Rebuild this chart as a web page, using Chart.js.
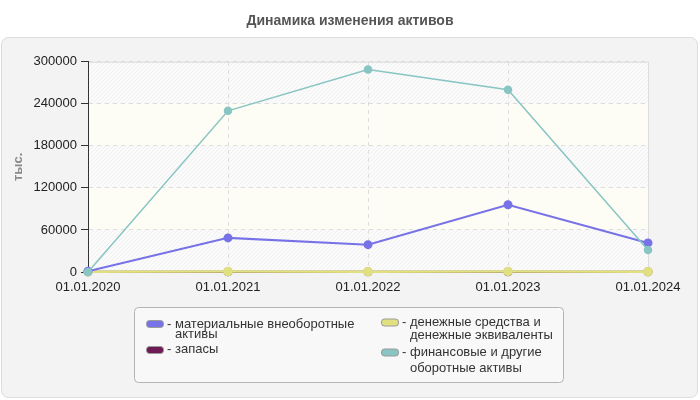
<!DOCTYPE html>
<html>
<head>
<meta charset="utf-8">
<script src="https://cdn.jsdelivr.net/npm/chart.js@4/dist/chart.umd.min.js"></script>
<style>
  html, body { margin: 0; padding: 0; background: #fff; }
  #wrap { width: 700px; height: 400px; position: relative; }
</style>
</head>
<body>
<div id="wrap"><canvas id="assetsChart"></canvas></div>
<script>
// dates of the balance sheet
const dates = ['01.01.2020', '01.01.2021', '01.01.2022', '01.01.2023', '01.01.2024'];

// values, thousand rubles
const fixedAssets = [1000, 48700, 39000, 96000, 41500];
const inventories = [200, 300, 300, 400, 300];
const cashItems = [300, 600, 500, 700, 400];
const financialAssets = [0, 230000, 289000, 260000, 31500];

const yTicks = [0, 60000, 120000, 180000, 240000, 300000];

const seriesNames = [
    'материальные внеоборотные активы',
    'запасы',
    'денежные средства и денежные эквиваленты',
    'финансовые и другие оборотные активы'
];
// how the legend wraps the names
const legendLines = [
    ['материальные внеоборотные', 'активы'],
    ['запасы'],
    ['денежные средства и', 'денежные эквиваленты'],
    ['финансовые и другие', 'оборотные активы']
];
const seriesColors = ['#7772e6', '#6e1a55', '#e0e080', '#88c5c3'];

// diagonal hatch used on every other band
function makeHatch() {
    const c = document.createElement('canvas');
    c.width = 4; c.height = 4;
    const g = c.getContext('2d');
    g.fillStyle = '#fbfbfb';
    g.fillRect(0, 0, 4, 4);
    g.fillStyle = '#f0f0f0';
    for (let i = 0; i < 4; i++) g.fillRect(3 - i, i, 1, 1);
    return c;
}

const backdrop = {
    id: 'backdrop',
    beforeDraw(chart) {
        const ctx = chart.ctx;
        const area = chart.chartArea;
        const y = chart.scales.y;
        ctx.save();
        ctx.fillStyle = '#fff';
        ctx.fillRect(0, 0, chart.width, chart.height);
        // grey panel
        ctx.beginPath();
        ctx.roundRect(1.5, 37.5, 696, 360, 7);
        ctx.fillStyle = '#f3f3f3';
        ctx.fill();
        ctx.strokeStyle = '#dcdcdc';
        ctx.lineWidth = 1;
        ctx.stroke();
        // bands
        const hatch = ctx.createPattern(makeHatch(), 'repeat');
        for (let i = 0; i < yTicks.length - 1; i++) {
            const top = y.getPixelForValue(yTicks[yTicks.length - 1 - i]);
            const bottom = y.getPixelForValue(yTicks[yTicks.length - 2 - i]);
            ctx.fillStyle = i % 2 === 0 ? hatch : '#fdfdf6';
            ctx.fillRect(area.left, top, area.right - area.left, bottom - top);
        }
        ctx.strokeStyle = '#dddddd';
        ctx.strokeRect(area.left + 0.5, area.top + 0.5, area.right - area.left, area.bottom - area.top);
        ctx.restore();
    }
};

const legendBox = {
    id: 'legendBox',
    afterDraw(chart) {
        const ctx = chart.ctx;
        ctx.save();
        ctx.beginPath();
        ctx.roundRect(134.5, 307.5, 429, 75, 4);
        ctx.fillStyle = '#f8f8f8';
        ctx.fill();
        ctx.strokeStyle = '#b4b4b4';
        ctx.lineWidth = 1;
        ctx.stroke();

        const places = [
            { x: 146, sy: 320, lines: [324, 334.5] },
            { x: 146, sy: 346, lines: [349] },
            { x: 381, sy: 318.5, lines: [322.5, 335] },
            { x: 381, sy: 348.5, lines: [352.5, 368.5] }
        ];
        ctx.font = '13px "Liberation Sans", Arial, sans-serif';
        ctx.textBaseline = 'middle';
        ctx.textAlign = 'left';
        places.forEach((p, i) => {
            ctx.beginPath();
            ctx.roundRect(p.x + 0.5, p.sy + 0.5, 17, 7, 3);
            ctx.fillStyle = seriesColors[i];
            ctx.fill();
            ctx.strokeStyle = '#9a9a9a';
            ctx.stroke();
            ctx.fillStyle = '#333';
            const tx = p.x + 21;
            const dash = '- ';
            ctx.fillText(dash, tx, p.lines[0]);
            const indent = tx + ctx.measureText(dash).width;
            legendLines[i].forEach((t, j) => ctx.fillText(t, indent, p.lines[j]));
        });
        ctx.restore();
    }
};

const datasetData = [fixedAssets, inventories, cashItems, financialAssets];
const lineWidths = [2, 2, 2.5, 1.5];
const drawOrder = [1, 3, 2, 0];

new Chart(document.getElementById('assetsChart'), {
    type: 'line',
    data: {
        labels: dates,
        datasets: datasetData.map((d, i) => ({
            label: seriesNames[i],
            data: d,
            borderColor: seriesColors[i],
            backgroundColor: seriesColors[i],
            pointBackgroundColor: seriesColors[i],
            pointBorderColor: seriesColors[i],
            borderWidth: lineWidths[i],
            pointRadius: 3.5,
            pointHoverRadius: 3.5,
            tension: 0,
            clip: false,
            order: drawOrder[i]
        }))
    },
    options: {
        responsive: true,
        maintainAspectRatio: false,
        animation: false,
        layout: { padding: { left: 0, right: 0, top: 0, bottom: 0 } },
        scales: {
            x: {
                grid: { color: '#dddddd', drawTicks: false },
                border: { color: '#333', width: 1, dash: [4, 4] },
                ticks: {
                    padding: 8,
                    maxRotation: 0,
                    color: '#222',
                    font: { family: '"Liberation Sans", Arial, sans-serif', size: 13 }
                },
                afterFit(s) { s.height = 128; s.paddingRight = 52; }
            },
            y: {
                min: 0,
                max: 300000,
                afterBuildTicks(s) { s.ticks = yTicks.map(v => ({ value: v })); },
                grid: {
                    color: '#dddddd',
                    tickLength: 7,
                    tickColor: '#333',
                    tickBorderDash: []
                },
                border: { color: '#333', width: 1, dash: [4, 4] },
                ticks: {
                    padding: 4,
                    color: '#222',
                    font: { family: '"Liberation Sans", Arial, sans-serif', size: 13 },
                    callback: v => String(v)
                },
                title: {
                    display: true,
                    text: 'тыс.',
                    color: '#8a8a8a',
                    padding: { top: 11, bottom: 0 },
                    font: { family: '"Liberation Sans", Arial, sans-serif', size: 13, weight: 'bold' }
                },
                afterFit(s) { s.width = 88; }
            }
        },
        plugins: {
            legend: { display: false },
            tooltip: { enabled: false },
            title: {
                display: true,
                text: 'Динамика изменения активов',
                color: '#555',
                padding: { top: 13, bottom: 32 },
                font: { family: '"Liberation Sans", Arial, sans-serif', size: 14, weight: 'bold' }
            }
        }
    },
    plugins: [backdrop, legendBox]
});
</script>
</body>
</html>
